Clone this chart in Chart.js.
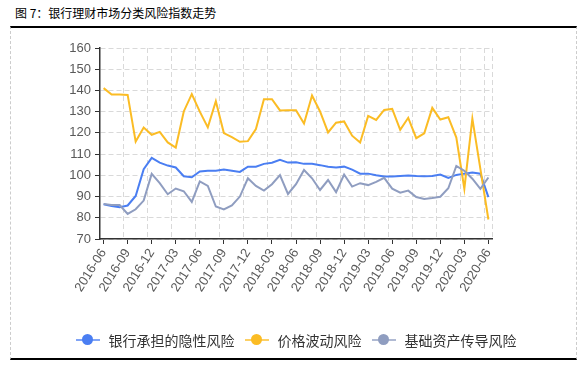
<!DOCTYPE html>
<html>
<head>
<meta charset="utf-8">
<script src="https://cdn.jsdelivr.net/npm/chart.js@4.4.1/dist/chart.umd.min.js"></script>
<style>
    body { margin: 0; background: #fff; }
    #wrap { position: relative; width: 586px; height: 365px; overflow: hidden; }
    #title { position: absolute; left: 15px; top: 4px; font: 12px "Noto Sans CJK SC", sans-serif; color: #000; }
    #frame { position: absolute; left: 10px; top: 26px; width: 565px; height: 330px;
        border-top: 2px solid #000; border-bottom: 2px solid #000;
        border-left: 1px dashed #ccc; border-right: 1px dashed #ccc; }
    #chart { position: absolute; left: 0; top: 0; }
    #legend { position: absolute; left: 0; top: 331px; width: 592px; display: flex; justify-content: center; gap: 10px;
        font: 14px "Noto Sans CJK SC", sans-serif; color: #333; }
    .item { display: flex; align-items: center; height: 17px; white-space: nowrap; }
    .mark { position: relative; width: 24px; height: 11px; margin-right: 9px; }
    .mark .line { position: absolute; left: 0; right: 0; top: 4.5px; height: 2px; opacity: 0.7; }
    .mark .dot { position: absolute; left: 6.5px; top: 0; width: 11px; height: 11px; border-radius: 50%; }
</style>
</head>
<body>
<div id="wrap">
    <div id="title">图 7：银行理财市场分类风险指数走势</div>
    <div id="frame"></div>
    <canvas id="chart" width="586" height="365"></canvas>
    <div id="legend"></div>
</div>
<script>
"use strict";

const months = [
    '2016-06', '2016-07', '2016-08', '2016-09', '2016-10', '2016-11', '2016-12',
    '2017-01', '2017-02', '2017-03', '2017-04', '2017-05', '2017-06', '2017-07', '2017-08', '2017-09', '2017-10', '2017-11', '2017-12',
    '2018-01', '2018-02', '2018-03', '2018-04', '2018-05', '2018-06', '2018-07', '2018-08', '2018-09', '2018-10', '2018-11', '2018-12',
    '2019-01', '2019-02', '2019-03', '2019-04', '2019-05', '2019-06', '2019-07', '2019-08', '2019-09', '2019-10', '2019-11', '2019-12',
    '2020-01', '2020-02', '2020-03', '2020-04', '2020-05', '2020-06'
];

const tickLabels = [
    '2016-06', '2016-09', '2016-12', '2017-03', '2017-06', '2017-09', '2017-12', '2018-03', '2018-06',
    '2018-09', '2018-12', '2019-03', '2019-06', '2019-09', '2019-12', '2020-03', '2020-06'
];

const seriesNames = ['银行承担的隐性风险', '价格波动风险', '基础资产传导风险'];

const bankRisk = [
    86.4, 85.6, 85.0, 85.8, 90.3, 102.9, 108.2, 106.0, 104.6, 103.7, 99.6, 99.1,
    101.8, 102.2, 102.2, 102.7, 102.2, 101.6, 104.1, 104.1, 105.4, 105.9, 107.3, 106.0,
    106.2, 105.4, 105.4, 104.8, 104.0, 103.7, 104.1, 102.7, 100.8, 100.8, 100.0, 99.4,
    99.4, 99.7, 99.9, 99.7, 99.6, 99.7, 100.4, 98.8, 100.2, 100.8, 101.3, 100.8, 89.7
];

const priceRisk = [
    141.1, 138.1, 138.1, 137.9, 115.9, 122.5, 119.1, 120.5, 115.5, 113.1, 130.1, 138.3,
    130.0, 122.6, 134.9, 119.9, 118.0, 115.8, 116.1, 121.8, 135.9, 135.9, 130.6, 130.7,
    130.7, 124.4, 137.6, 130.1, 120.2, 124.8, 125.4, 118.7, 115.5, 128.0, 126.1, 130.8,
    131.3, 121.4, 127.1, 117.5, 119.8, 131.8, 126.3, 127.4, 117.8, 93.7, 126.7, 103.0, 79.2
];

const assetRisk = [
    86.5, 86.0, 86.0, 81.8, 84.0, 88.1, 100.7, 96.3, 91.1, 93.8, 92.5, 87.5,
    97.1, 95.0, 85.3, 83.9, 85.8, 90.0, 98.6, 95.0, 92.8, 95.8, 100.1, 91.2,
    95.8, 102.5, 98.6, 93.1, 97.8, 92.1, 100.4, 94.7, 96.3, 95.4, 96.9, 98.8,
    93.7, 91.8, 92.8, 89.8, 88.9, 89.3, 89.9, 93.9, 104.4, 102.1, 98.4, 93.6, 99.0
];

const colors = ['#4a7ef2', '#fbbc24', '#8f9dc0'];
const X_MIN = -0.45;
const X_MAX = months.length - 1 + 0.45;

// dashed vertical grid sits between the labelled ticks
const gridAt = [];
for (let v = 2.5; v < months.length - 1; v += 3) {
    gridAt.push(v);
}
gridAt.push(X_MAX);

const toPoints = (values) => values.map((v, i) => ({ x: i, y: v }));

Chart.defaults.font.family = 'Liberation Sans';

const config = {
    type: 'line',
    data: {
        datasets: [bankRisk, priceRisk, assetRisk].map((values, i) => ({
            label: seriesNames[i],
            data: toPoints(values),
            borderColor: colors[i],
            backgroundColor: colors[i],
            borderWidth: 2,
            pointRadius: 0,
            tension: 0,
            order: 3 - i
        }))
    },
    options: {
        responsive: false,
        animation: false,
        layout: {
            padding: { top: 48, right: 94, bottom: 46, left: 0 }
        },
        plugins: {
            legend: { display: false },
            tooltip: { enabled: false }
        },
        scales: {
            x: {
                type: 'linear',
                min: X_MIN,
                max: X_MAX,
                afterBuildTicks: (scale) => {
                    scale.ticks = tickLabels.map((t) => ({ value: months.indexOf(t) }));
                },
                afterFit: (scale) => {
                    scale.height = 80;
                },
                ticks: {
                    autoSkip: false,
                    minRotation: 58,
                    maxRotation: 58,
                    padding: 2,
                    color: '#595959',
                    font: { size: 13 },
                    callback: (value, index) => tickLabels[index]
                },
                grid: {
                    drawOnChartArea: false,
                    tickLength: 5,
                    tickColor: '#333'
                },
                border: { color: '#333', width: 1.5 }
            },
            xGrid: {
                type: 'linear',
                position: 'bottom',
                min: X_MIN,
                max: X_MAX,
                afterBuildTicks: (scale) => {
                    scale.ticks = gridAt.map((v) => ({ value: v }));
                },
                afterFit: (scale) => {
                    scale.height = 0;
                },
                ticks: { display: false },
                grid: { color: '#d9d9d9', drawTicks: false },
                border: { display: false, dash: [5, 3] }
            },
            y: {
                min: 70,
                max: 160,
                afterFit: (scale) => {
                    scale.width = 100;
                },
                ticks: {
                    stepSize: 10,
                    padding: 4,
                    color: '#595959',
                    font: { size: 13 }
                },
                grid: {
                    color: '#d9d9d9',
                    tickColor: '#333',
                    tickLength: 5
                },
                border: { color: '#333', width: 1.5, dash: [5, 3] }
            }
        }
    }
};

const chart = new Chart(document.getElementById('chart'), config);

// build legend from the datasets
const legend = document.getElementById('legend');
chart.data.datasets.forEach((ds) => {
    let item = document.createElement('div');
    item.classList.add('item');

    let mark = document.createElement('span');
    mark.classList.add('mark');
    let line = document.createElement('span');
    line.classList.add('line');
    line.style.background = ds.borderColor;
    let dot = document.createElement('span');
    dot.classList.add('dot');
    dot.style.background = ds.borderColor;
    mark.append(line, dot);

    let text = document.createElement('span');
    text.innerText = ds.label;

    item.append(mark, text);
    legend.append(item);
});
</script>
</body>
</html>
